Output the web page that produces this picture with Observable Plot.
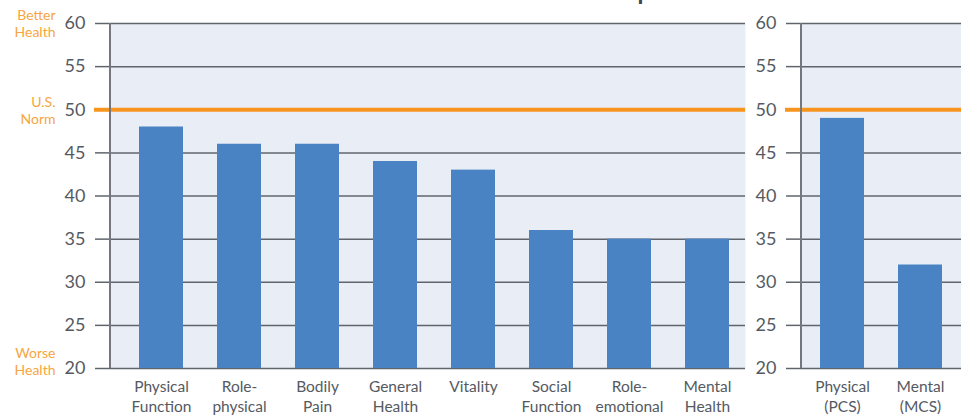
<!DOCTYPE html>
<html><head><meta charset="utf-8">
<script src="https://cdn.jsdelivr.net/npm/d3@7"></script>
<script src="https://cdn.jsdelivr.net/npm/@observablehq/plot@0.6"></script>
<style>
body{margin:0;background:#fff;font-family:Lato, sans-serif;}
#wrap{position:relative;width:961px;height:415px;overflow:hidden;}
#title{position:absolute;left:0;width:1070px;text-align:center;top:-21px;font:bold 24px Lato, sans-serif;color:#3e4450;white-space:nowrap;line-height:1}
#left,#right{position:absolute;top:0}
#left{left:0}
#right{left:745px}
</style></head><body>
<div id="wrap"><div id="title">SF-36 Scores for Overall Population</div><div id="left"></div><div id="right"></div></div>
<script>
const scales = ["Physical\nFunction", "Role-\nphysical", "Bodily\nPain", "General\nHealth", "Vitality", "Social\nFunction", "Role-\nemotional", "Mental\nHealth"];
const scaleValues = [48, 46, 46, 44, 43, 36, 35, 35];
const summaries = ["Physical\n(PCS)", "Mental\n(MCS)"];
const summaryValues = [49, 32];
const yTicks = [20, 25, 30, 35, 40, 45, 50, 55, 60];
const yDomain = [20, 60];
const normValue = 50;
const topLabelValues = [60, 50];
const topLabelTexts = ["Better\nHealth", "U.S.\nNorm"];
const bottomLabelValues = [20];
const bottomLabelTexts = ["Worse\nHealth"];

const orange = "#f7941d", orangeText = "#f7a540", grid = "#60646c", axisColor = "#74777e",
      barColor = "#4a83c4", bg = "#e9edf6", textColor = "#555a62";

function axisLine(color) {
  return (index, sc, values, dims) => d3.create("svg:line")
    .attr("x1", dims.marginLeft).attr("x2", dims.marginLeft)
    .attr("y1", dims.marginTop).attr("y2", dims.height - dims.marginBottom)
    .attr("stroke", color).attr("stroke-width", 2).node();
}

function sideText(texts, vals, dy) {
  return Plot.text(texts, {y: vals, text: d => d, frameAnchor: "left", dx: -55, dy, textAnchor: "end", fill: orangeText, fontSize: 14, lineHeight: 1.2});
}

function panel(cats, vals, opts) {
  return Plot.plot({
    width: opts.width, height: 415,
    marginLeft: opts.marginLeft, marginRight: opts.marginRight, marginTop: 23, marginBottom: 47,
    style: {background: "transparent", fontFamily: "Lato, sans-serif", color: textColor, overflow: "visible"},
    x: {domain: cats, paddingInner: 0.44, paddingOuter: opts.outer, align: opts.align, label: null},
    y: {domain: yDomain, label: null},
    marks: [
      Plot.frame({fill: bg, stroke: null}),
      Plot.ruleY(yTicks, {stroke: grid, strokeWidth: 1.5}),
      Plot.barY(vals, {x: cats, y1: yDomain[0], y2: vals, fill: barColor}),
      Plot.ruleY([normValue], {stroke: orange, strokeWidth: 4}),
      Plot.axisY({ticks: yTicks, tickSize: 15, tickPadding: 10, stroke: grid, strokeWidth: 1.5, fontSize: 18, label: null}),
      Plot.axisY({ticks: [normValue], tickSize: 16, stroke: orange, strokeWidth: 4, tickFormat: () => "", label: null}),
      Plot.axisX({tickSize: 0, tickPadding: 9, fontSize: 15.5, lineHeight: 1.3, label: null}),
      ...(opts.side ? [sideText(topLabelTexts, topLabelValues, 0), sideText(bottomLabelTexts, bottomLabelValues, -7)] : []),
      axisLine(axisColor)
    ]
  });
}

document.getElementById("left").append(panel(scales, scaleValues, {width: 752, marginLeft: 110, marginRight: 7, outer: 0.28, align: 0.64, side: true}));
document.getElementById("right").append(panel(summaries, summaryValues, {width: 216, marginLeft: 56, marginRight: 0, outer: 0.24, align: 0.5, side: false}));
</script>
</body></html>
